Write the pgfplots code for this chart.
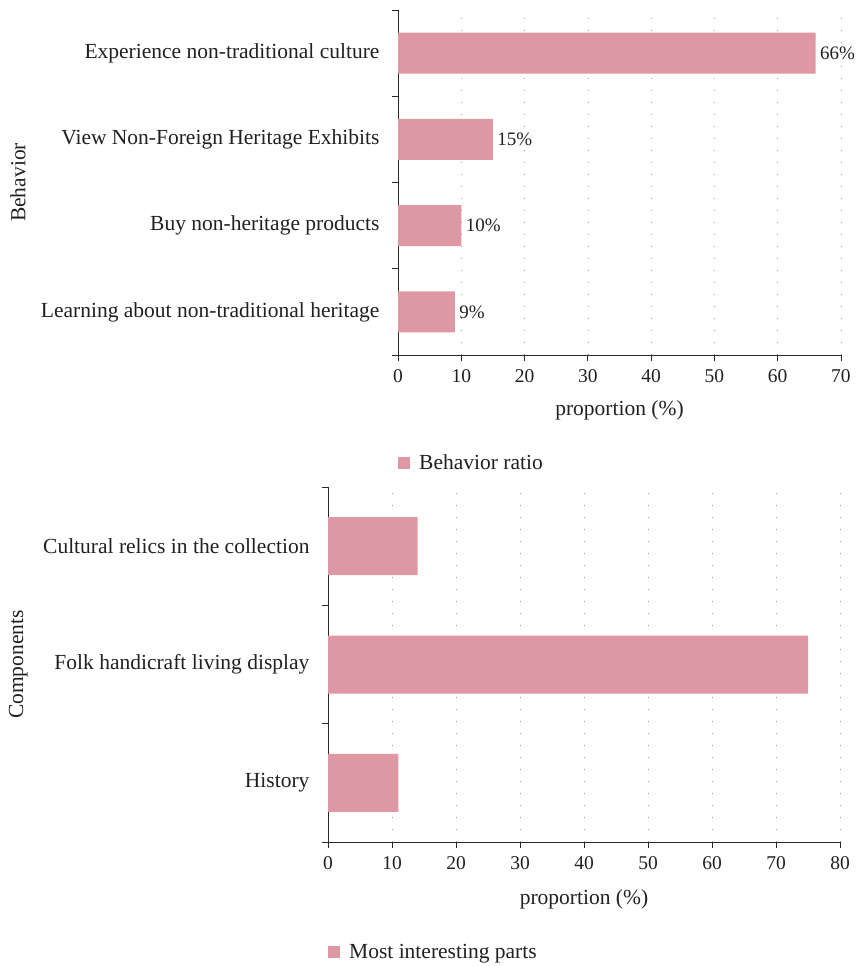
\documentclass[border=0pt]{standalone}
\usepackage{pgfplots}
\pgfplotsset{compat=1.18}
\usepackage{fontspec}
\setmainfont{Liberation Serif}
\definecolor{barpink}{RGB}{222,152,163}
\definecolor{txt}{RGB}{35,31,32}
\definecolor{axisgray}{RGB}{40,40,40}

\pgfplotsset{
  hbar/.style={
    xbar, scale only axis,
    axis x line*=bottom, axis y line*=left,
    axis line style={axisgray, line width=0.9pt},
    xmin=0,
    xmajorgrids,
    grid style={gray!80, line width=0.7pt, dash pattern=on 0.7pt off 11.3pt},
    tick align=outside,
    major tick length=6pt, minor tick length=6pt,
    tick style={axisgray, line width=0.9pt},
    every major y tick/.append style={draw=none},
    /pgf/number format/assume math mode=true,
    ticklabel style={text=txt},
    label style={text=txt},
    yticklabel style={xshift=-9pt},
    xticklabel style={yshift=-5pt, font=\fontsize{19.5}{23}\selectfont},
    legend style={draw=none, fill=none, text=txt, inner xsep=0pt, inner ysep=0pt,
      legend cell align=left},
    legend image code/.code={%
      \path[draw=none, fill, #1, draw=none] (0pt,-6pt) rectangle (12pt,6pt);
      \path (0pt,0pt) -- (19pt,0pt);},
  }
}

\begin{document}
\begin{tikzpicture}[font=\fontsize{21.5}{25}\selectfont, text=txt]
\path (0pt,0pt) rectangle (852pt,-966pt);

% Behaviour shares
\begin{axis}[hbar,
  at={(398pt,-10pt)}, anchor=north west,
  width=443pt, height=345pt,
  xmax=70, xtick={0,10,...,70},
  ymin=-0.5, ymax=3.5,
  ytick={0,1,2,3},
  yticklabels={Learning about non-traditional heritage, Buy non-heritage products, View Non-Foreign Heritage Exhibits, Experience non-traditional culture},
  minor ytick={-0.5,0.5,1.5,2.5,3.5},
  bar width=41pt,
  nodes near coords={\pgfmathprintnumber{\pgfplotspointmeta}\%},
  nodes near coords style={anchor=west, xshift=1pt, text=txt, font=\fontsize{19}{22}\selectfont},
  xlabel={proportion (\%)},
  ylabel={Behavior},
  ylabel style={at={(axis description cs:-0.858,0.5)}, anchor=center},
  xlabel style={at={(axis description cs:0.5,0)}, anchor=center, yshift=-55pt},
  legend style={at={(axis description cs:0,-0.313)}, anchor=west},
]
\addplot[fill=barpink, draw=none] coordinates {(9,0) (10,1) (15,2) (66,3)};
\legend{Behavior ratio}
\end{axis}

% Most interesting parts
\begin{axis}[hbar,
  at={(328pt,-487pt)}, anchor=north west,
  width=512pt, height=355pt,
  xmax=80, xtick={0,10,...,80},
  ymin=-0.5, ymax=2.5,
  ytick={0,1,2},
  yticklabels={History, Folk handicraft living display, Cultural relics in the collection},
  minor ytick={-0.5,0.5,1.5,2.5},
  bar width=58pt,
  xlabel={proportion (\%)},
  ylabel={Components},
  ylabel style={at={(axis description cs:-0.605,0.5)}, anchor=center},
  xlabel style={at={(axis description cs:0.5,0)}, anchor=center, yshift=-57pt},
  legend style={at={(axis description cs:0,-0.31)}, anchor=west},
]
\addplot[fill=barpink, draw=none] coordinates {(11,0) (75,1) (14,2)};
\legend{Most interesting parts}
\end{axis}
\end{tikzpicture}
\end{document}
